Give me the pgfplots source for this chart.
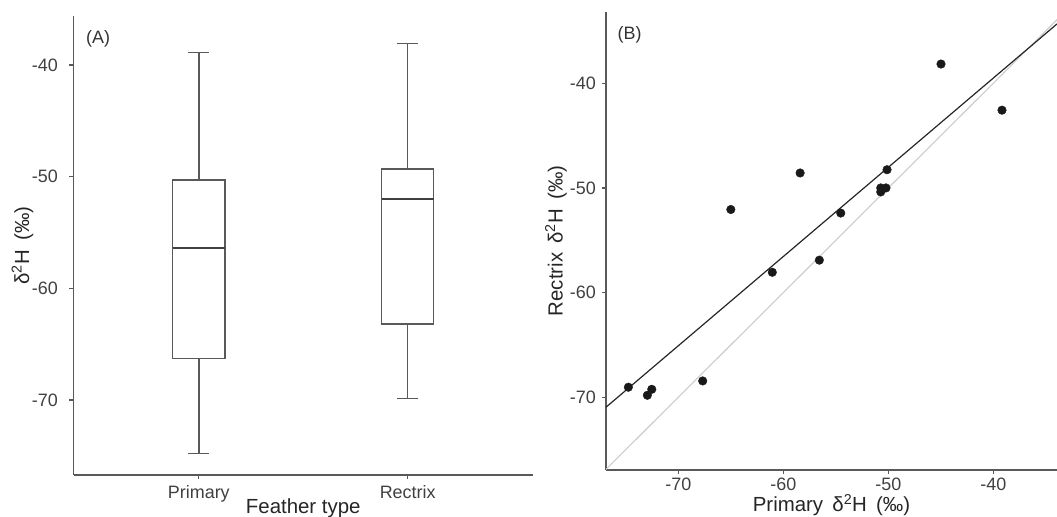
\documentclass[border=0pt]{standalone}
\usepackage{fontspec}
\setmainfont{Liberation Sans}
\usepackage{pgfplots}
\pgfplotsset{compat=1.18}
\usepgfplotslibrary{statistics}

\definecolor{axgray}{gray}{0.35}
\definecolor{tickgray}{gray}{0.25}
\definecolor{boxgray}{gray}{0.35}
\definecolor{dotcol}{gray}{0.1}
\definecolor{oneone}{gray}{0.8}

\pgfplotsset{
  ggstyle/.style={
    scale only axis,
    axis lines=left,
    axis line style={-, draw=axgray, line width=1.4bp},
    tick align=outside,
    major tick length=4bp,
    tick style={draw=axgray, line width=1.2bp},
    ticklabel style={font=\fontsize{18}{18}\selectfont, text=tickgray, inner sep=0pt},
    label style={font=\fontsize{20.5}{21}\selectfont, text=black!85, inner sep=0pt},
  }
}

\begin{document}
\begin{tikzpicture}
\useasboundingbox (0,0) rectangle (1057bp,517bp);

% (A) boxplots
\begin{axis}[ggstyle,
  at={(73.5bp,42bp)}, anchor=south west,
  width=459.5bp, height=459bp,
  xmin=0.4, xmax=2.6, ymin=-76.72, ymax=-35.61,
  xtick={1,2}, xticklabels={Primary,Rectrix},
  ytick={-70,-60,-50,-40}, yticklabels={-70,-60,-50,-40},
  xticklabel style={anchor=base, yshift=-19.5bp},
  yticklabel style={anchor=east, xshift=-11.5bp},
  xlabel={Feather type},
  ylabel={δ\textsuperscript{2}H\hspace{0.45em}(‰)},
  xlabel style={at={(rel axis cs:0.5,0)}, anchor=base, yshift=-38.5bp},
  ylabel style={at={([xshift=-51bp]rel axis cs:0,0.5)}, anchor=center},
  boxplot/draw direction=y,
]
\addplot[draw=boxgray, fill=white, line width=1.4bp,
  boxplot prepared={draw position=1,
    lower whisker=-74.8, lower quartile=-66.3, median=-56.4,
    upper quartile=-50.3, upper whisker=-38.9,
    box extend=0.25, whisker extend=0.1,
    every median/.style={draw=black!75, line width=2.2bp}}]
  coordinates {};
\addplot[draw=boxgray, fill=white, line width=1.4bp,
  boxplot prepared={draw position=2,
    lower whisker=-69.85, lower quartile=-63.2, median=-52.0,
    upper quartile=-49.3, upper whisker=-38.1,
    box extend=0.25, whisker extend=0.1,
    every median/.style={draw=black!75, line width=2.2bp}}]
  coordinates {};
\node[anchor=west, font=\fontsize{18}{18}\selectfont, text=black!80] at (rel axis cs:0.02,0.95) {(A)};
\end{axis}

% (B) scatter
\begin{axis}[ggstyle,
  at={(606bp,47bp)}, anchor=south west,
  width=451bp, height=458.3bp,
  xmin=-76.89, xmax=-33.93, ymin=-76.95, ymax=-33.16,
  xtick={-70,-60,-50,-40}, xticklabels={-70,-60,-50,-40},
  ytick={-70,-60,-50,-40}, yticklabels={-70,-60,-50,-40},
  xticklabel style={anchor=base, yshift=-16.7bp},
  yticklabel style={anchor=east, xshift=-6bp},
  xlabel={Primary\hspace{0.45em}δ\textsuperscript{2}H\hspace{0.45em}(‰)},
  ylabel={Rectrix\hspace{0.45em}δ\textsuperscript{2}H\hspace{0.45em}(‰)},
  xlabel style={at={(rel axis cs:0.5,0)}, anchor=base, yshift=-41.7bp},
  ylabel style={at={([xshift=-50bp]rel axis cs:0,0.5)}, anchor=center},
]
\addplot[oneone, line width=1.1bp] coordinates {(-76.95,-76.95) (-33.16,-33.16)};
\addplot[black!85, line width=1.2bp] coordinates {(-76.89,-70.95) (-33.93,-34.33)};
\addplot[only marks, mark=*, mark size=4.3bp, mark options={fill=dotcol, draw=dotcol}]
  coordinates {
  (-74.76,-69.04)
  (-72.95,-69.81)
  (-72.53,-69.24)
  (-67.68,-68.44)
  (-65.00,-52.06)
  (-61.05,-58.06)
  (-58.40,-48.57)
  (-56.57,-56.90)
  (-54.53,-52.40)
  (-50.72,-50.00)
  (-50.72,-50.38)
  (-50.22,-50.00)
  (-50.12,-48.26)
  (-44.98,-38.16)
  (-39.17,-42.57)
  };
\node[anchor=west, font=\fontsize{18}{18}\selectfont, text=black!80] at (rel axis cs:0.018,0.949) {(B)};
\end{axis}
\end{tikzpicture}
\end{document}
